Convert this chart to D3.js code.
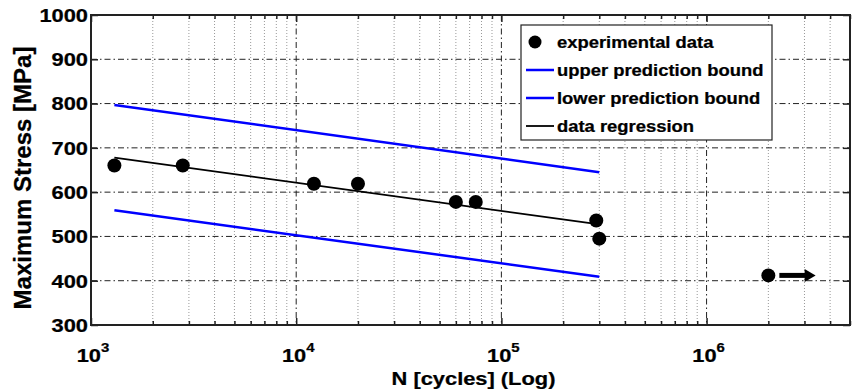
<!DOCTYPE html>
<html>
<head>
<meta charset="utf-8">
<script src="https://cdn.jsdelivr.net/npm/d3@7"></script>
<style>
  body { margin: 0; background: #fff; }
  text { font-family: "Liberation Sans", Arial, sans-serif; font-weight: bold; fill: #000; stroke: #000; stroke-width: 0.25px; }
</style>
</head>
<body>
<div id="chart"></div>
<script>
// experimental points (cycles, MPa)
const cycles = [1300, 2800, 12200, 20000, 60000, 75000, 290000, 300000, 2000000];
const stress = [660, 660, 619, 619, 578, 578, 536, 495, 412];

// fitted lines, evaluated at the ends of the tested range
const fitCycles = [1300, 300000];
const regression = [678, 527];
const upperBound = [797, 645];
const lowerBound = [559, 409];

// run-out arrow on the last specimen
const runoutCycles = [2000000, 3400000];
const runoutStress = [412, 412];

const yTicks = [300, 400, 500, 600, 700, 800, 900, 1000];
const xDecades = [1e3, 1e4, 1e5, 1e6];
const legendItems = ["experimental data", "upper prediction bound", "lower prediction bound", "data regression"];

const W = 855, H = 391;
const margin = { top: 15, right: 5, bottom: 66, left: 91 };
const width = W - margin.left - margin.right;
const height = H - margin.top - margin.bottom;
const STRETCH = 1.15; // the source text is a little wider than it is tall

const svg = d3.select("#chart").append("svg")
    .attr("width", W)
    .attr("height", H);

const g = svg.append("g")
    .attr("transform", `translate(${margin.left}, ${margin.top})`);

const x = d3.scaleLog().domain([1e3, 5e6]).range([0, width]);
const y = d3.scaleLinear().domain([300, 1000]).range([height, 0]);

// minor ticks 2..9 inside each decade
const minorTicks = [];
for (let d = 1e3; d < 5e6; d *= 10) {
    for (let k = 2; k <= 9; k++) if (d * k <= 5e6) minorTicks.push(d * k);
}

// grid
g.selectAll(".minor-grid")
    .data(minorTicks)
    .enter().append("line")
    .attr("x1", d => x(d)).attr("x2", d => x(d))
    .attr("y1", 0).attr("y2", height)
    .attr("stroke", "#999")
    .attr("stroke-width", 1)
    .attr("stroke-dasharray", "1,2");

g.selectAll(".major-xgrid")
    .data(xDecades.slice(1))
    .enter().append("line")
    .attr("x1", d => x(d)).attr("x2", d => x(d))
    .attr("y1", 0).attr("y2", height)
    .attr("stroke", "#222")
    .attr("stroke-width", 1)
    .attr("stroke-dasharray", "6,3,1.5,3");

g.selectAll(".major-ygrid")
    .data(yTicks.slice(1, -1))
    .enter().append("line")
    .attr("x1", 0).attr("x2", width)
    .attr("y1", d => y(d)).attr("y2", d => y(d))
    .attr("stroke", "#222")
    .attr("stroke-width", 1)
    .attr("stroke-dasharray", "6,3,1.5,3");

// axes, ticks pointing inward, mirrored on top/right
g.append("g")
    .attr("transform", `translate(0, ${height})`)
    .call(d3.axisBottom(x).tickValues(minorTicks).tickSize(-4).tickFormat(""));
g.append("g")
    .attr("transform", `translate(0, ${height})`)
    .call(d3.axisBottom(x).tickValues(xDecades).tickSize(-7).tickFormat(""));
g.append("g")
    .call(d3.axisTop(x).tickValues(minorTicks).tickSize(-4).tickFormat(""));
g.append("g")
    .call(d3.axisTop(x).tickValues(xDecades).tickSize(-7).tickFormat(""));
g.append("g")
    .call(d3.axisLeft(y).tickValues(yTicks).tickSize(-7).tickFormat(""));
g.append("g")
    .attr("transform", `translate(${width}, 0)`)
    .call(d3.axisRight(y).tickValues(yTicks).tickSize(-7).tickFormat(""));

g.selectAll(".domain").remove();
g.selectAll(".tick line").attr("stroke", "#222").attr("stroke-width", 1.5);

g.append("rect")
    .attr("width", width)
    .attr("height", height)
    .attr("fill", "none")
    .attr("stroke", "#222")
    .attr("stroke-width", 2);

// tick labels
g.selectAll(".ylabel")
    .data(yTicks)
    .enter().append("text")
    .attr("transform", d => `translate(-3, ${y(d)}) scale(${STRETCH}, 1)`)
    .attr("dy", "0.36em")
    .attr("text-anchor", "end")
    .style("font-size", "19px")
    .text(d => d);

const xl = g.selectAll(".xlabel")
    .data(xDecades)
    .enter().append("text")
    .attr("transform", d => `translate(${x(d) + 2}, ${height + 37}) scale(${STRETCH}, 1)`)
    .attr("text-anchor", "middle")
    .style("font-size", "19px");
xl.append("tspan").text("10");
xl.append("tspan")
    .attr("dy", -10)
    .style("font-size", "13px")
    .text(d => Math.round(Math.log10(d)));

// axis titles
g.append("text")
    .attr("transform", `translate(${width / 2 + 3}, ${height + 60}) scale(${STRETCH}, 1)`)
    .attr("text-anchor", "middle")
    .style("font-size", "19px")
    .text("N [cycles] (Log)");

g.append("text")
    .attr("transform", `translate(-60, ${height / 2 + 8}) rotate(-90)`)
    .attr("text-anchor", "middle")
    .style("font-size", "24px")
    .text("Maximum Stress [MPa]");

// fitted lines
const fitLine = d3.line()
    .x((d, i) => x(fitCycles[i]))
    .y(d => y(d));

g.append("path").datum(upperBound)
    .attr("d", fitLine).attr("fill", "none")
    .attr("stroke", "#0000ff").attr("stroke-width", 2.5);
g.append("path").datum(lowerBound)
    .attr("d", fitLine).attr("fill", "none")
    .attr("stroke", "#0000ff").attr("stroke-width", 2.5);
g.append("path").datum(regression)
    .attr("d", fitLine).attr("fill", "none")
    .attr("stroke", "#000").attr("stroke-width", 1.8);

// points
g.selectAll(".dot")
    .data(cycles)
    .enter().append("circle")
    .attr("cx", d => x(d))
    .attr("cy", (d, i) => y(stress[i]))
    .attr("r", 7)
    .attr("fill", "#000");

// run-out arrow
const ax0 = x(runoutCycles[0]) + 11, ax1 = x(runoutCycles[1]);
const ay = y(runoutStress[0]);
g.append("line")
    .attr("x1", ax0).attr("x2", ax1 - 8)
    .attr("y1", ay).attr("y2", ay)
    .attr("stroke", "#000").attr("stroke-width", 5);
g.append("path")
    .attr("d", `M${ax1},${ay} L${ax1 - 11},${ay - 6.5} L${ax1 - 11},${ay + 6.5} Z`)
    .attr("fill", "#000");

// legend
const legend = g.append("g")
    .attr("transform", `translate(${521 - margin.left}, ${25 - margin.top})`);
legend.append("rect")
    .attr("width", 251)
    .attr("height", 115)
    .attr("fill", "#fff")
    .attr("stroke", "#222")
    .attr("stroke-width", 1.2);

const legendColors = [null, "#0000ff", "#0000ff", "#000"];
legendItems.forEach((label, i) => {
    const ly = 17 + i * 28;
    if (i === 0) {
        legend.append("circle").attr("cx", 14).attr("cy", ly).attr("r", 6.5).attr("fill", "#000");
    } else {
        legend.append("line")
            .attr("x1", 5).attr("x2", 33)
            .attr("y1", ly).attr("y2", ly)
            .attr("stroke", legendColors[i])
            .attr("stroke-width", i === 3 ? 1.8 : 2.5);
    }
    legend.append("text")
        .attr("transform", `translate(36, ${ly}) scale(${STRETCH}, 1)`)
        .attr("dy", "0.36em")
        .style("font-size", "16px")
        .text(label);
});
</script>
</body>
</html>
